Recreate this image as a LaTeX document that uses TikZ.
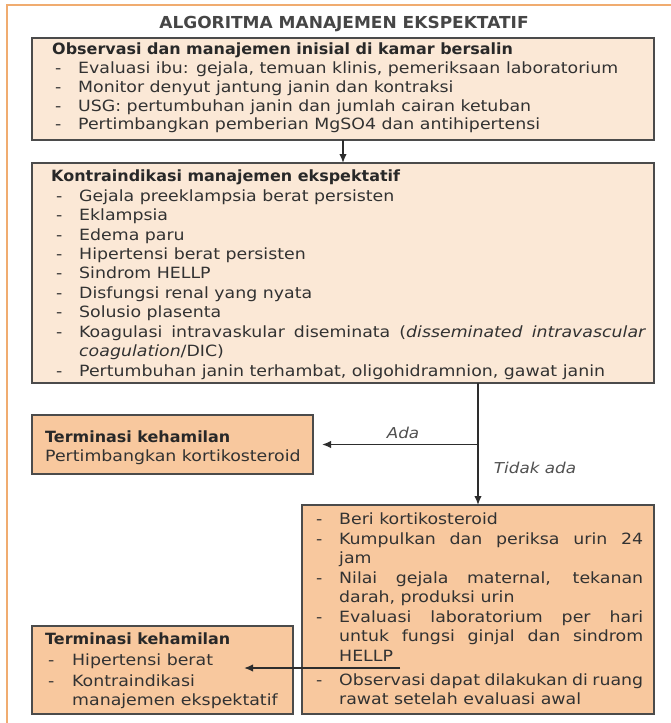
\documentclass[tikz,border=0pt]{standalone}
\usepackage{fontspec}
\setmainfont{DejaVu Sans}[FakeStretch=1.12]
\newfontfamily\hdfont{DejaVu Sans}[FakeStretch=1.03]
\usetikzlibrary{arrows.meta}
\definecolor{framec}{RGB}{240,172,112}
\definecolor{lightfill}{RGB}{251,232,214}
\definecolor{darkfill}{RGB}{248,200,158}
\definecolor{boxline}{RGB}{75,75,75}
\definecolor{txtc}{RGB}{50,50,50}
\definecolor{arrc}{RGB}{45,45,45}
\newcommand{\dashitem}[1]{\makebox[23pt][l]{-}#1}
\newcommand{\jline}[2]{\makebox[#1][s]{#2}}
\tikzset{
  box/.style={draw=boxline, line width=1.8pt, anchor=north west, inner sep=0pt, outer sep=0pt},
  lightbox/.style={box, fill=lightfill},
  darkbox/.style={box, fill=darkfill},
  txt/.style={anchor=base west, inner sep=0pt, text=txtc, font=\fontsize{15.5}{18}\selectfont},
  hd/.style={anchor=base west, inner sep=0pt, text=txtc!80!black, font=\fontsize{15.5}{18}\selectfont\hdfont\bfseries},
  lbl/.style={inner sep=0pt, text=txtc!85, font=\fontsize{15}{18}\selectfont\itshape},
  arr/.style={-{Latex[length=9pt,width=7.5pt]}, line width=1.5pt, draw=arrc}
}
\begin{document}
\begin{tikzpicture}[x=1pt,y=-1pt]
\useasboundingbox (0,0) rectangle (671,723);
\clip (0,0) rectangle (671,723);
\fill[white] (0,0) rectangle (671,723);
\draw[framec, line width=2.8pt] (7,5) rectangle (700,760);

\node[hd, anchor=base, text=txtc!90, font=\fontsize{16.5}{18}\selectfont\hdfont\bfseries] (title) at (344,28) {ALGORITMA MANAJEMEN EKSPEKTATIF};

% Box 1
\node[lightbox, minimum width=622pt, minimum height=102pt] (b1) at (32,38) {};
\node[hd] (t10) at (52,54.5) {Observasi dan manajemen inisial di kamar bersalin};
\node[txt] (t11) at (55,73.5) {\dashitem{Evaluasi ibu: gejala, temuan klinis, pemeriksaan laboratorium}};
\node[txt] (t12) at (55,92.5) {\dashitem{Monitor denyut jantung janin dan kontraksi}};
\node[txt] (t13) at (55,111) {\dashitem{USG: pertumbuhan janin dan jumlah cairan ketuban}};
\node[txt] (t14) at (55,129.8) {\dashitem{Pertimbangkan pemberian MgSO4 dan antihipertensi}};

% Box 2
\node[lightbox, minimum width=622pt, minimum height=220pt] (b2) at (32,163) {};
\node[hd] (t20) at (51,181.5) {Kontraindikasi manajemen ekspektatif};
\node[txt] (t21) at (56,201) {\dashitem{Gejala preeklampsia berat persisten}};
\node[txt] (t22) at (56,220.5) {\dashitem{Eklampsia}};
\node[txt] (t23) at (56,240) {\dashitem{Edema paru}};
\node[txt] (t24) at (56,259.5) {\dashitem{Hipertensi berat persisten}};
\node[txt] (t25) at (56,278.5) {\dashitem{Sindrom HELLP}};
\node[txt] (t26) at (56,298) {\dashitem{Disfungsi renal yang nyata}};
\node[txt] (t27) at (56,317.5) {\dashitem{Solusio plasenta}};
\node[txt] (t28) at (56,337) {\jline{590pt}{\makebox[23pt][l]{-}Koagulasi intravaskular diseminata (\textit{disseminated} \textit{intravascular}}};
\node[txt] (t29) at (79,356.5) {\textit{coagulation}/DIC)};
\node[txt] (t2a) at (56,376) {\dashitem{Pertumbuhan janin terhambat, oligohidramnion, gawat janin}};

% Box 3
\node[darkbox, minimum width=281pt, minimum height=59pt] (b3) at (32,415) {};
\node[hd] (t30) at (45,442.5) {Terminasi kehamilan};
\node[txt] (t31) at (45,461) {Pertimbangkan kortikosteroid};

% Box 4
\node[darkbox, minimum width=352pt, minimum height=209pt] (b4) at (302,505) {};
\node[txt] (t41) at (316,524.5) {\dashitem{Beri kortikosteroid}};
\node[txt] (t42) at (316,544) {\jline{327pt}{\makebox[23pt][l]{-}Kumpulkan dan periksa urin 24}};
\node[txt] (t43) at (339,563.5) {jam};
\node[txt] (t44) at (316,583) {\jline{327pt}{\makebox[23pt][l]{-}Nilai gejala maternal, tekanan}};
\node[txt] (t45) at (339,602.5) {darah, produksi urin};
\node[txt] (t46) at (316,622) {\jline{327pt}{\makebox[23pt][l]{-}Evaluasi laboratorium per hari}};
\node[txt] (t47) at (339,641.5) {\jline{304pt}{untuk fungsi ginjal dan sindrom}};
\node[txt] (t48) at (339,661) {HELLP};
\node[txt] (t49) at (316,685.5) {\jline{327pt}{\makebox[23pt][l]{-}Observasi dapat dilakukan di ruang}};
\node[txt] (t4a) at (339,704.5) {rawat setelah evaluasi awal};

% Box 5
\node[darkbox, minimum width=261pt, minimum height=88pt] (b5) at (32,626) {};
\node[hd] (t50) at (45,644.5) {Terminasi kehamilan};
\node[txt] (t51) at (48,665.5) {\makebox[24pt][l]{-}Hipertensi berat};
\node[txt] (t52) at (48,686) {\makebox[24pt][l]{-}Kontraindikasi};
\node[txt] (t53) at (72,705.5) {manajemen ekspektatif};

% Connectors
\draw[arr] (b1.south) -- (b2.north);
\coordinate (split) at (b4.north |- b3.east);
\draw[arr] (b2.south -| b4.north) -- (b4.north);
\draw[arr, shorten >=9pt] (split) -- (b3.east);
\node[lbl] (ada) at (403,433) {Ada};
\node[lbl] (tidak) at (535,468) {Tidak ada};
\coordinate (a4s) at (400,668);
\coordinate (a5e) at (244,668);
\draw[arr] (a4s) -- (a5e);
\end{tikzpicture}
\end{document}
